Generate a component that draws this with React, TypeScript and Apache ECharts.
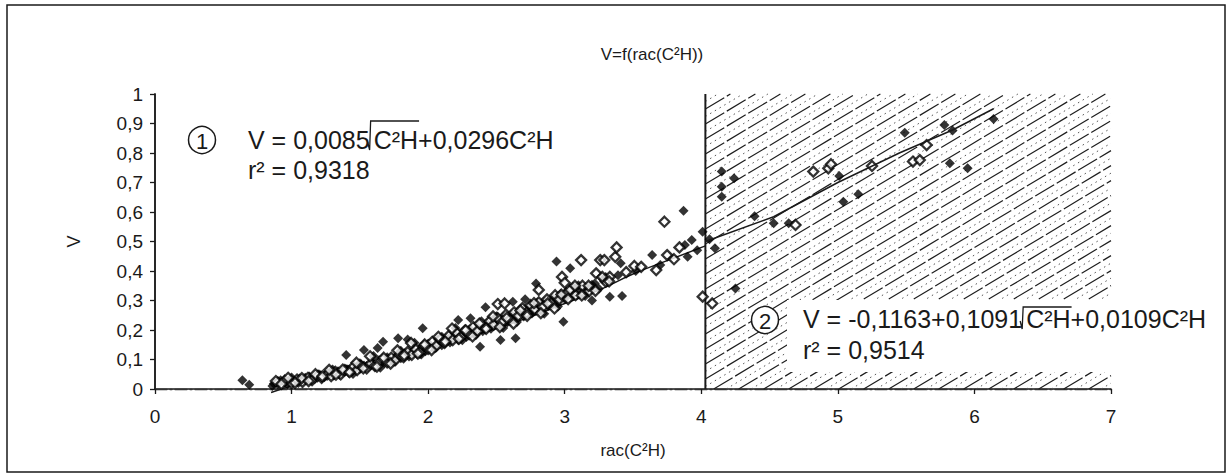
import React, { useEffect, useRef } from "react";
import * as echarts from "echarts";

const chartTitle = "V=f(rac(C²H))";
const xAxisName = "rac(C²H)";
const yAxisName = "V";
const xTickLabels = ["0", "1", "2", "3", "4", "5", "6", "7"];
const yTickLabels = ["0", "0,1", "0,2", "0,3", "0,4", "0,5", "0,6", "0,7", "0,8", "0,9", "1"];

// hatched zone (zone 2) limits on x
const hatchX = [4.03, 7];

// zone 1 – filled diamonds
const zone1Filled: number[][] = [
  [0.64, 0.030], [0.69, 0.014], [0.87, 0.018], [0.92, 0.030], [0.97, 0.016], [1.02, 0.026], [1.06, 0.036],
  [1.10, 0.030], [1.13, 0.042], [1.17, 0.034], [1.21, 0.047], [1.24, 0.040], [1.28, 0.052], [1.31, 0.046],
  [1.34, 0.060], [1.37, 0.055], [1.40, 0.115], [1.41, 0.066], [1.44, 0.058], [1.47, 0.072], [1.50, 0.068],
  [1.53, 0.132], [1.53, 0.080], [1.56, 0.074], [1.59, 0.088], [1.62, 0.082], [1.63, 0.139], [1.65, 0.095],
  [1.67, 0.160], [1.68, 0.088], [1.71, 0.102], [1.74, 0.094], [1.77, 0.112], [1.78, 0.172], [1.80, 0.104],
  [1.83, 0.121], [1.85, 0.168], [1.86, 0.110], [1.89, 0.130], [1.92, 0.118], [1.95, 0.142], [1.96, 0.206],
  [1.98, 0.128], [2.01, 0.152], [2.04, 0.140], [2.07, 0.166], [2.10, 0.148], [2.13, 0.172], [2.16, 0.158],
  [2.19, 0.184], [2.22, 0.234], [2.22, 0.166], [2.25, 0.190], [2.28, 0.176], [2.31, 0.240], [2.31, 0.202],
  [2.34, 0.184], [2.37, 0.214], [2.38, 0.143], [2.40, 0.196], [2.42, 0.277], [2.43, 0.222], [2.46, 0.204],
  [2.49, 0.232], [2.52, 0.214], [2.53, 0.166], [2.55, 0.244], [2.58, 0.226], [2.61, 0.252], [2.62, 0.296],
  [2.64, 0.172], [2.64, 0.236], [2.67, 0.262], [2.70, 0.246], [2.71, 0.304], [2.73, 0.272], [2.76, 0.256],
  [2.79, 0.358], [2.79, 0.284], [2.82, 0.268], [2.85, 0.296], [2.88, 0.282], [2.91, 0.308], [2.94, 0.432],
  [2.94, 0.294], [2.97, 0.322], [2.99, 0.228], [3.00, 0.306], [3.04, 0.409], [3.06, 0.347], [3.10, 0.330],
  [3.16, 0.341], [3.20, 0.300], [3.22, 0.358], [3.28, 0.372], [3.33, 0.313], [3.39, 0.386], [3.41, 0.426],
  [3.42, 0.315], [3.52, 0.400], [3.64, 0.454], [3.70, 0.420], [3.87, 0.604], [3.88, 0.488], [3.90, 0.448],
  [3.93, 0.505], [3.97, 0.470], [4.01, 0.533],
  [0.86, 0.010], [0.90, 0.025], [0.95, 0.021], [1.00, 0.039], [1.05, 0.020], [1.10, 0.038], [1.15, 0.030],
  [1.20, 0.050], [1.25, 0.047], [1.30, 0.066], [1.35, 0.048], [1.40, 0.067], [1.45, 0.051], [1.50, 0.087],
  [1.55, 0.078], [1.60, 0.112], [1.65, 0.072], [1.70, 0.108], [1.75, 0.092], [1.80, 0.130], [1.85, 0.122],
  [1.90, 0.157], [1.95, 0.117], [2.00, 0.153], [2.05, 0.138], [2.10, 0.177], [2.15, 0.171], [2.20, 0.207],
  [2.25, 0.165], [2.30, 0.200], [2.35, 0.183], [2.40, 0.220], [2.45, 0.212], [2.50, 0.247], [2.55, 0.207],
  [2.60, 0.243], [2.65, 0.227], [2.70, 0.265], [2.75, 0.257], [2.80, 0.292], [2.85, 0.255], [2.90, 0.293],
  [2.95, 0.280], [3.00, 0.320], [3.05, 0.315], [3.10, 0.352], [3.15, 0.315], [3.20, 0.353], [3.25, 0.340],
  [3.30, 0.380],
];

// zone 1 – open diamonds
const zone1Open: number[][] = [
  [0.90, 0.022], [0.95, 0.028], [1.00, 0.020], [1.04, 0.032], [1.08, 0.024], [1.12, 0.038], [1.15, 0.030],
  [1.19, 0.044], [1.22, 0.038], [1.26, 0.050], [1.29, 0.044], [1.32, 0.058], [1.36, 0.050], [1.39, 0.064],
  [1.42, 0.060], [1.45, 0.074], [1.48, 0.064], [1.51, 0.078], [1.55, 0.070], [1.58, 0.086], [1.61, 0.078],
  [1.64, 0.092], [1.67, 0.100], [1.70, 0.090], [1.73, 0.106], [1.76, 0.098], [1.79, 0.116], [1.82, 0.108],
  [1.85, 0.126], [1.88, 0.116], [1.91, 0.134], [1.94, 0.124], [1.97, 0.146], [2.00, 0.136], [2.03, 0.160],
  [2.06, 0.146], [2.09, 0.168], [2.12, 0.156], [2.15, 0.180], [2.18, 0.166], [2.21, 0.190], [2.24, 0.176],
  [2.27, 0.198], [2.30, 0.186], [2.33, 0.210], [2.36, 0.196], [2.39, 0.224], [2.42, 0.208], [2.45, 0.230],
  [2.48, 0.218], [2.51, 0.288], [2.51, 0.240], [2.54, 0.226], [2.56, 0.290], [2.57, 0.252], [2.60, 0.236],
  [2.63, 0.260], [2.66, 0.248], [2.69, 0.274], [2.72, 0.258], [2.75, 0.284], [2.78, 0.270], [2.81, 0.336],
  [2.81, 0.294], [2.84, 0.278], [2.87, 0.304], [2.90, 0.290], [2.93, 0.318], [2.96, 0.304], [2.98, 0.380],
  [3.00, 0.360], [3.01, 0.324], [3.04, 0.336], [3.08, 0.318], [3.12, 0.437], [3.13, 0.350], [3.18, 0.332],
  [3.23, 0.392], [3.26, 0.437], [3.29, 0.437], [3.30, 0.364], [3.33, 0.380], [3.37, 0.448], [3.38, 0.480],
  [3.45, 0.396], [3.51, 0.417], [3.56, 0.414], [3.67, 0.403], [3.73, 0.567], [3.75, 0.454], [3.80, 0.440],
  [3.84, 0.480], [4.01, 0.313], [4.08, 0.290],
  [0.885, 0.027], [0.925, 0.017], [0.975, 0.038], [1.025, 0.021], [1.075, 0.037], [1.125, 0.027],
  [1.175, 0.050], [1.225, 0.043], [1.275, 0.065], [1.325, 0.049], [1.375, 0.066], [1.425, 0.057],
  [1.475, 0.089], [1.525, 0.070], [1.575, 0.111], [1.625, 0.076], [1.675, 0.106], [1.725, 0.086],
  [1.775, 0.131], [1.825, 0.114], [1.875, 0.156], [1.925, 0.120], [1.975, 0.151], [2.025, 0.132],
  [2.075, 0.177], [2.125, 0.161], [2.175, 0.205], [2.225, 0.170], [2.275, 0.199], [2.325, 0.178],
  [2.375, 0.222], [2.425, 0.204], [2.475, 0.246], [2.525, 0.210], [2.575, 0.241], [2.625, 0.222],
  [2.675, 0.266], [2.725, 0.248], [2.775, 0.291], [2.825, 0.257], [2.875, 0.290], [2.925, 0.273],
  [2.975, 0.320], [3.025, 0.305], [3.075, 0.350], [3.125, 0.317], [3.175, 0.350], [3.225, 0.333],
  [3.275, 0.380], [3.325, 0.365],
];

// zone 2 – filled diamonds
const zone2Filled: number[][] = [
  [4.06, 0.508], [4.10, 0.477], [4.15, 0.737], [4.15, 0.686], [4.15, 0.652], [4.24, 0.714], [4.25, 0.341],
  [4.39, 0.586], [4.53, 0.562], [4.64, 0.562], [5.01, 0.722], [5.04, 0.635], [5.15, 0.660], [5.49, 0.869],
  [5.78, 0.895], [5.84, 0.876], [5.82, 0.765], [5.95, 0.748], [6.14, 0.915],
];

// zone 2 – open diamonds
const zone2Open: number[][] = [
  [4.69, 0.556], [4.82, 0.737], [4.93, 0.748], [4.95, 0.762], [5.25, 0.756], [5.55, 0.771], [5.60, 0.776],
  [5.65, 0.827],
];

// trend lines
const trend1: number[][] = [
  [0.85, -0.012], [1.0, 0.01], [1.25, 0.04], [1.5, 0.07], [1.75, 0.1], [2.0, 0.135], [2.25, 0.17],
  [2.5, 0.205], [2.75, 0.245], [3.0, 0.29], [3.25, 0.335], [3.5, 0.39], [3.75, 0.435], [4.03, 0.485],
];
const trend2: number[][] = [
  [4.03, 0.5], [4.53, 0.584], [5.0, 0.7], [5.45, 0.8], [5.84, 0.878], [6.14, 0.95],
];

const eq1Main = "V = 0,0085";
const eq1Rad = "C²H";
const eq1Rest = "+0,0296C²H";
const eq1R2 = "r² = 0,9318";
const eq2Main = "V = -0,1163+0,1091";
const eq2Rad = "C²H";
const eq2Rest = "+0,0109C²H";
const eq2R2 = "r² = 0,9514";

const FONT = '"Liberation Sans", Arial, sans-serif';
const INK = "#1a1a1a";

function measure(t: string, size: number): number {
  const c = document.createElement("canvas").getContext("2d");
  if (!c) return t.length * size * 0.55;
  c.font = `${size}px ${FONT}`;
  return c.measureText(t).width;
}

function equation(
  x: number, fy: number, ovY: number, r2y: number, size: number,
  main: string, rad: string, rest: string, r2: string
): any[] {
  const wA = measure(main, size);
  const x0 = x + wA + 1;
  const wR = measure(rad, size);
  const xr = x0 + 3;
  return [
    { type: "text", z: 60, style: { x, y: fy, text: main, font: `${size}px ${FONT}`, fill: INK, verticalAlign: "middle" } },
    {
      type: "polyline", z: 60,
      shape: { points: [[x0 - 3, fy + 2], [x0 - 1, fy + 10], [x0, ovY], [xr + wR + 1, ovY]] },
      style: { stroke: INK, lineWidth: 1.3, fill: null },
    },
    { type: "text", z: 60, style: { x: xr, y: fy, text: rad + rest, font: `${size}px ${FONT}`, fill: INK, verticalAlign: "middle" } },
    { type: "text", z: 60, style: { x, y: r2y, text: r2, font: `${size}px ${FONT}`, fill: INK, verticalAlign: "middle" } },
  ];
}

function circled(cx: number, cy: number, label: string): any[] {
  return [
    { type: "circle", z: 60, shape: { cx, cy, r: 13.5 }, style: { fill: "#fff", stroke: INK, lineWidth: 1.5 } },
    {
      type: "text", z: 61,
      style: { x: cx, y: cy + 1, text: label, font: `22px ${FONT}`, fill: INK, align: "center", verticalAlign: "middle" },
    },
  ];
}

export default function App() {
  const ref = useRef<HTMLDivElement>(null);

  useEffect(() => {
    if (!ref.current) return;
    const chart = echarts.init(ref.current, null, { renderer: "svg" });

    const hatchRender = (params: any, api: any) => {
      const tl = api.coord([hatchX[0], 1]);
      const br = api.coord([hatchX[1], 0]);
      const L = tl[0], T = tl[1], R = br[0], B = br[1];
      const k = 0.6;
      const step = 7.5;
      const children: any[] = [];
      let i = 0;
      for (let c = T + k * L; c <= B + k * R + step; c += step, i++) {
        const xa = Math.max(L, (c - B) / k);
        const xb = Math.min(R, (c - T) / k);
        if (xb - xa < 1) continue;
        const solid = i % 2 === 0;
        children.push({
          type: "line",
          shape: { x1: xa, y1: c - k * xa, x2: xb, y2: c - k * xb },
          style: solid
            ? { stroke: "#1e1e1e", lineWidth: 1.2, lineDash: [22, 3] }
            : { stroke: "#555", lineWidth: 1, lineDash: [1.5, 4] },
        });
      }
      children.push({
        type: "line",
        shape: { x1: L, y1: T, x2: L, y2: B },
        style: { stroke: INK, lineWidth: 2 },
      });
      return { type: "group", children };
    };

    const diamondFilled = { color: "#000" };
    const diamondOpen = { color: "#fff", borderColor: "#000", borderWidth: 2.3 };

    const option: any = {
      animation: false,
      backgroundColor: "#fff",
      textStyle: { fontFamily: FONT },
      title: {
        text: chartTitle,
        left: 647,
        top: 41,
        textAlign: "center",
        textStyle: { fontSize: 17, fontWeight: "normal", color: INK, fontFamily: FONT },
      },
      grid: { left: 155, right: 119, top: 94, bottom: 87, containLabel: false },
      xAxis: [
        {
          type: "value", min: 0, max: 7, interval: 1,
          axisLine: { show: true, onZero: false, lineStyle: { color: INK, width: 1.5 } },
          axisTick: { show: true, length: 5, lineStyle: { color: INK, width: 1.3 } },
          splitLine: { show: false },
          axisLabel: {
            fontSize: 19, color: INK, margin: 18, fontFamily: FONT,
            formatter: (v: number) => xTickLabels[Math.round(v)] ?? "",
          },
          name: xAxisName, nameLocation: "middle", nameGap: 53,
          nameTextStyle: { fontSize: 17, color: INK, fontFamily: FONT },
        },
        {
          type: "value", min: 0, max: 7, interval: 1, position: "top",
          axisLine: { show: true, lineStyle: { color: "#333", width: 1.3, type: [12, 3, 2, 3] } },
          axisTick: { show: false }, axisLabel: { show: false }, splitLine: { show: false },
        },
      ],
      yAxis: [
        {
          type: "value", min: 0, max: 1, interval: 0.1,
          axisLine: { show: true, onZero: false, lineStyle: { color: INK, width: 1.5 } },
          axisTick: { show: true, length: 5, lineStyle: { color: INK, width: 1.3 } },
          splitLine: { show: false },
          axisLabel: {
            fontSize: 19, color: INK, margin: 12, fontFamily: FONT,
            formatter: (v: number) => yTickLabels[Math.round(v * 10)] ?? "",
          },
          name: yAxisName, nameLocation: "middle", nameGap: 72,
          nameTextStyle: { fontSize: 18, color: INK, fontFamily: FONT },
        },
        {
          type: "value", min: 0, max: 1, interval: 0.1, position: "right",
          axisLine: { show: true, lineStyle: { color: INK, width: 1.5 } },
          axisTick: { show: false }, axisLabel: { show: false }, splitLine: { show: false },
        },
      ],
      series: [
        {
          name: "zone 2", type: "custom", renderItem: hatchRender, data: [hatchX],
          z: 1, silent: true,
        },
        {
          name: "trend 1", type: "line", data: trend1, showSymbol: false, smooth: true, clip: false,
          lineStyle: { color: INK, width: 1.5 }, z: 2,
        },
        {
          name: "zone 1 filled", type: "scatter", symbol: "diamond", symbolSize: 10,
          itemStyle: diamondFilled, data: zone1Filled, z: 3,
        },
        {
          name: "zone 1 open", type: "scatter", symbol: "diamond", symbolSize: 10,
          itemStyle: diamondOpen, data: zone1Open, z: 3,
        },
        {
          name: "zone 2 filled", type: "scatter", symbol: "diamond", symbolSize: 10,
          itemStyle: diamondFilled, data: zone2Filled, z: 3,
        },
        {
          name: "zone 2 open", type: "scatter", symbol: "diamond", symbolSize: 10,
          itemStyle: diamondOpen, data: zone2Open, z: 3,
        },
        {
          name: "trend 2", type: "line", data: trend2, showSymbol: false, clip: false,
          lineStyle: { color: INK, width: 1.5 }, z: 5,
        },
      ],
      graphic: [
        {
          type: "rect", z: -10, silent: true,
          shape: { x: 7, y: 5, width: 1218, height: 467 },
          style: { fill: "transparent", stroke: INK, lineWidth: 1.5 },
        },
        {
          type: "rect", z: 50, silent: true,
          shape: { x: 787, y: 300, width: 434, height: 72 },
          style: { fill: "#fff" },
        },
        ...circled(202, 140, "1"),
        ...equation(248, 140, 121, 170, 25, eq1Main, eq1Rad, eq1Rest, eq1R2),
        ...circled(765, 320, "2"),
        ...equation(803, 319, 307, 350, 25, eq2Main, eq2Rad, eq2Rest, eq2R2),
      ],
    };

    chart.setOption(option);
    return () => chart.dispose();
  }, []);

  return (
    <div
      ref={ref}
      style={{ position: "absolute", left: 0, top: 0, width: 1230, height: 476, background: "#fff" }}
    />
  );
}
